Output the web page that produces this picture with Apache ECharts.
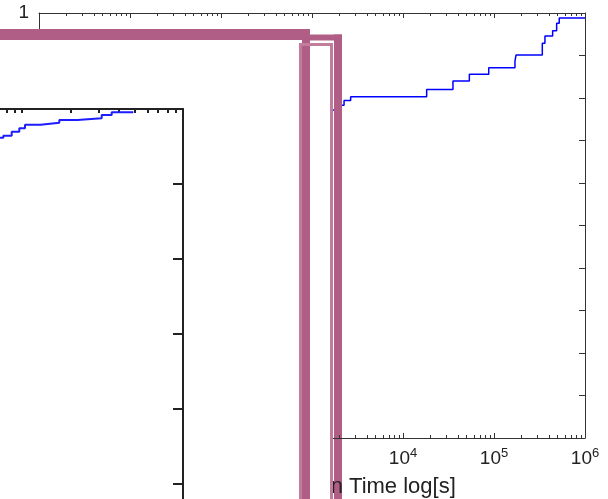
<!DOCTYPE html>
<html>
<head>
<meta charset="utf-8">
<script src="https://cdn.jsdelivr.net/npm/echarts@6/dist/echarts.min.js"></script>
<style>
  html, body { margin: 0; padding: 0; background: #fff; }
  #chart { width: 608px; height: 499px; }
</style>
</head>
<body>
<div id="chart"></div>
<script>
// main step curve: time [s] and cumulative fraction
var mainTimes = [1200, 1900, 2250, 2660, 18200, 35400, 53600, 87500, 170000, 174500, 339500, 363000, 441000, 488000, 521000, 1000000];
var mainValues = [0.772, 0.783, 0.794, 0.803, 0.820, 0.840, 0.856, 0.871, 0.887, 0.901, 0.929, 0.946, 0.958, 0.976, 0.988, 0.988];

// zoomed inset curve
var insetTimes = [73000, 76560, 86300, 96200, 104400, 130700, 170500, 220600, 312600, 360700, 491200];
var insetValues = [0.9617, 0.9644, 0.9697, 0.9743, 0.9791, 0.9817, 0.9853, 0.9876, 0.9920, 0.9956, 0.9956];

// inset tick positions
var insetXTicks = [80000, 90000, 100000, 200000, 300000, 400000, 500000, 600000, 700000, 800000, 900000];
var insetYTicks = [0.5, 0.6, 0.7, 0.8, 0.9];

var xAxisName = "Simulation Time log[s]";
var yTickStep = 0.1;

var font = "Liberation Sans, Arial, sans-serif";
var axisColor = "#333";
var purple = "#b05e86";
var thinPink = "#c27c9c";

function pairs(xs, ys) {
  return xs.map(function(x, i) { return [x, ys[i]]; });
}

function powerLabel(v) {
  var e = Math.round(Math.log(v) / Math.LN10);
  return "{b|10}{s|" + e + "}";
}

var chart = echarts.init(document.getElementById("chart"));

var option = {
  animation: false,
  backgroundColor: "#fff",
  grid: [
    { left: 39, top: 13, right: 23, bottom: 61, outerBoundsMode: "none", containLabel: false },
    { left: 0, top: 109, width: 183, bottom: 0, z: 60, outerBoundsMode: "none", containLabel: false }
  ],
  xAxis: [
    {
      type: "log",
      gridIndex: 0,
      z: 5,
      min: 1,
      max: 1000000,
      splitNumber: 6,
      name: xAxisName,
      nameLocation: "middle",
      nameGap: 38,
      nameTextStyle: { fontSize: 22, color: "#222", fontFamily: font, padding: [0, 0, 0, 72] },
      axisLine: { onZero: false, lineStyle: { color: axisColor, width: 1 } },
      axisTick: { inside: true, length: 5, lineStyle: { color: axisColor } },
      minorTick: { show: true, splitNumber: 9, length: 3, lineStyle: { color: axisColor } },
      axisLabel: {
        margin: 9,
        formatter: powerLabel,
        rich: {
          b: { fontSize: 19, color: "#222", fontFamily: font, verticalAlign: "bottom" },
          s: { fontSize: 13, color: "#222", fontFamily: font, verticalAlign: "top", padding: [0, 0, 8, 0] }
        }
      },
      splitLine: { show: false }
    },
    {
      type: "log",
      gridIndex: 0,
      position: "top",
      min: 1,
      max: 1000000,
      splitNumber: 6,
      axisLine: { onZero: false, lineStyle: { color: axisColor, width: 1 } },
      axisTick: { inside: true, length: 5, lineStyle: { color: axisColor } },
      minorTick: { show: true, splitNumber: 9, length: 3, lineStyle: { color: axisColor } },
      axisLabel: { show: false },
      splitLine: { show: false }
    },
    {
      type: "log",
      gridIndex: 1,
      position: "top",
      min: 73000,
      max: 1000000,
      z: 60,
      axisLine: { onZero: false, lineStyle: { color: "#222", width: 2 } },
      axisTick: { inside: true, length: 4, customValues: insetXTicks, lineStyle: { color: "#222", width: 2 } },
      axisLabel: { show: false },
      splitLine: { show: false }
    }
  ],
  yAxis: [
    {
      type: "value",
      gridIndex: 0,
      min: 0,
      max: 1,
      interval: yTickStep,
      axisLine: { show: true, onZero: false, lineStyle: { color: axisColor, width: 1 } },
      axisTick: { show: true, inside: true, length: 6, lineStyle: { color: axisColor } },
      axisLabel: { fontSize: 19, color: "#222", fontFamily: font, margin: 10 },
      splitLine: { show: false }
    },
    {
      type: "value",
      gridIndex: 0,
      position: "right",
      min: 0,
      max: 1,
      interval: yTickStep,
      axisLine: { show: true, onZero: false, lineStyle: { color: axisColor, width: 1 } },
      axisTick: { show: true, inside: true, length: 6, lineStyle: { color: axisColor } },
      axisLabel: { show: false },
      splitLine: { show: false }
    },
    {
      type: "value",
      gridIndex: 1,
      position: "right",
      min: 0.48,
      max: 1,
      z: 60,
      axisLine: { show: true, onZero: false, lineStyle: { color: "#222", width: 2 } },
      axisTick: { show: true, inside: true, length: 10, customValues: insetYTicks, lineStyle: { color: "#222", width: 2 } },
      axisLabel: { show: false },
      splitLine: { show: false }
    }
  ],
  series: [
    {
      type: "line",
      xAxisIndex: 0,
      yAxisIndex: 0,
      z: 2,
      step: "end",
      showSymbol: false,
      data: pairs(mainTimes, mainValues),
      lineStyle: { color: "#0000ff", width: 1.5 }
    },
    {
      type: "line",
      xAxisIndex: 2,
      yAxisIndex: 2,
      step: "end",
      showSymbol: false,
      z: 60,
      data: pairs(insetTimes, insetValues),
      lineStyle: { color: "#1c1cff", width: 2 }
    }
  ],
  graphic: [
    // white panel hiding the main plot behind the inset
    { type: "rect", z: 50, silent: true, shape: { x: -10, y: 40, width: 342.5, height: 470 }, style: { fill: "#fff" } },
    // thick frame pieces
    { type: "rect", z: 100, silent: true, shape: { x: -10, y: 29, width: 320, height: 11 }, style: { fill: purple } },
    { type: "rect", z: 100, silent: true, shape: { x: 302, y: 29, width: 8, height: 480 }, style: { fill: purple } },
    { type: "rect", z: 100, silent: true, shape: { x: 310, y: 34.5, width: 32, height: 6 }, style: { fill: purple } },
    { type: "rect", z: 4, silent: true, shape: { x: 334, y: 34.5, width: 8, height: 475 }, style: { fill: purple } },
    // thin outline
    {
      type: "polyline", z: 100, silent: true,
      shape: { points: [[300.5, 510], [300.5, 44.5], [331.5, 44.5], [331.5, 510]] },
      style: { stroke: thinPink, lineWidth: 3, fill: null }
    }
  ]
};

chart.setOption(option);
</script>
</body>
</html>
